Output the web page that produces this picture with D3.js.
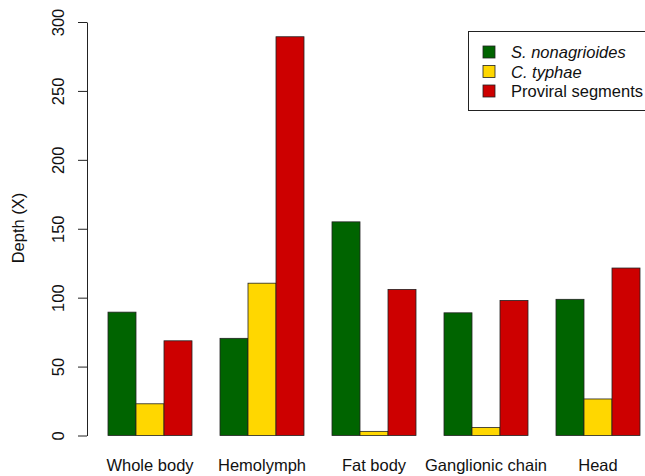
<!DOCTYPE html>
<html>
<head>
<meta charset="utf-8">
<script src="https://cdn.jsdelivr.net/npm/d3@7"></script>
<style>
  body { margin: 0; background: #fff; }
  svg { display: block; font-family: "Liberation Sans", Arial, sans-serif; }
</style>
</head>
<body>
<svg id="chart" width="645" height="476"></svg>
<script>
// tissues and depth per source
const tissues = ['Whole body', 'Hemolymph', 'Fat body', 'Ganglionic chain', 'Head'];
const seriesNames = ['S. nonagrioides', 'C. typhae', 'Proviral segments'];
const nonagrioides = [89.5, 70.5, 155, 89, 98.8];
const typhae = [23, 110.5, 3, 5.8, 26.5];
const proviral = [68.7, 289.3, 106, 98, 121.5];
const yTicks = [0, 50, 100, 150, 200, 250, 300];

const colors = ['#006400', '#FFD700', '#CD0000'];
const values = [nonagrioides, typhae, proviral];

const svg = d3.select('#chart');
const fontSize = 16.5;

const x0 = d3.scaleBand()
  .domain(tissues)
  .range([108, 640])
  .paddingInner(0.25)
  .paddingOuter(0);

const x1 = d3.scaleBand()
  .domain(seriesNames)
  .range([0, x0.bandwidth()])
  .padding(0);

const y = d3.scaleLinear()
  .domain([0, 300])
  .range([435.5, 22]);

// bars
const groups = svg.append('g')
  .selectAll('g')
  .data(tissues)
  .join('g')
  .attr('transform', d => `translate(${x0(d)},0)`);

groups.selectAll('rect')
  .data((d, i) => seriesNames.map((s, j) => ({ s, j, v: values[j][i] })))
  .join('rect')
  .attr('x', d => x1(d.s))
  .attr('y', d => y(d.v))
  .attr('width', x1.bandwidth())
  .attr('height', d => y(0) - y(d.v))
  .attr('fill', d => colors[d.j])
  .attr('stroke', '#222')
  .attr('stroke-width', 0.8);

// y axis
const yAxis = svg.append('g')
  .attr('transform', 'translate(87,0)')
  .call(d3.axisLeft(y).tickValues(yTicks).tickSize(9).tickSizeOuter(0));
yAxis.select('.domain').attr('stroke', '#222');
yAxis.selectAll('.tick line').attr('stroke', '#222');
yAxis.selectAll('.tick text')
  .attr('font-size', fontSize)
  .attr('font-family', '"Liberation Sans", Arial, sans-serif')
  .attr('fill', '#111')
  .attr('x', null)
  .attr('dy', null)
  .attr('text-anchor', 'middle')
  .attr('transform', 'translate(-23,0) rotate(-90)');

svg.append('text')
  .attr('transform', 'translate(24,228) rotate(-90)')
  .attr('text-anchor', 'middle')
  .attr('font-size', fontSize)
  .attr('fill', '#111')
  .text('Depth (X)');

// category labels
svg.append('g')
  .selectAll('text')
  .data(tissues)
  .join('text')
  .attr('x', d => x0(d) + x0.bandwidth() / 2)
  .attr('y', 471)
  .attr('text-anchor', 'middle')
  .attr('font-size', fontSize)
  .attr('fill', '#111')
  .text(d => d);

// legend
const legend = svg.append('g');
legend.append('rect')
  .attr('x', 468.5)
  .attr('y', 31.5)
  .attr('width', 200)
  .attr('height', 79)
  .attr('fill', '#fff')
  .attr('stroke', '#222')
  .attr('stroke-width', 1);

const rows = legend.selectAll('g.row')
  .data(seriesNames)
  .join('g')
  .attr('class', 'row')
  .attr('transform', (d, i) => `translate(0,${52 + i * 19.5})`);

rows.append('rect')
  .attr('x', 483)
  .attr('y', -6)
  .attr('width', 12)
  .attr('height', 12)
  .attr('fill', (d, i) => colors[i])
  .attr('stroke', '#222')
  .attr('stroke-width', 0.8);

rows.append('text')
  .attr('x', 511)
  .attr('y', 6)
  .attr('font-size', fontSize)
  .attr('fill', '#111')
  .attr('font-style', (d, i) => i < 2 ? 'italic' : 'normal')
  .text(d => d);
</script>
</body>
</html>
